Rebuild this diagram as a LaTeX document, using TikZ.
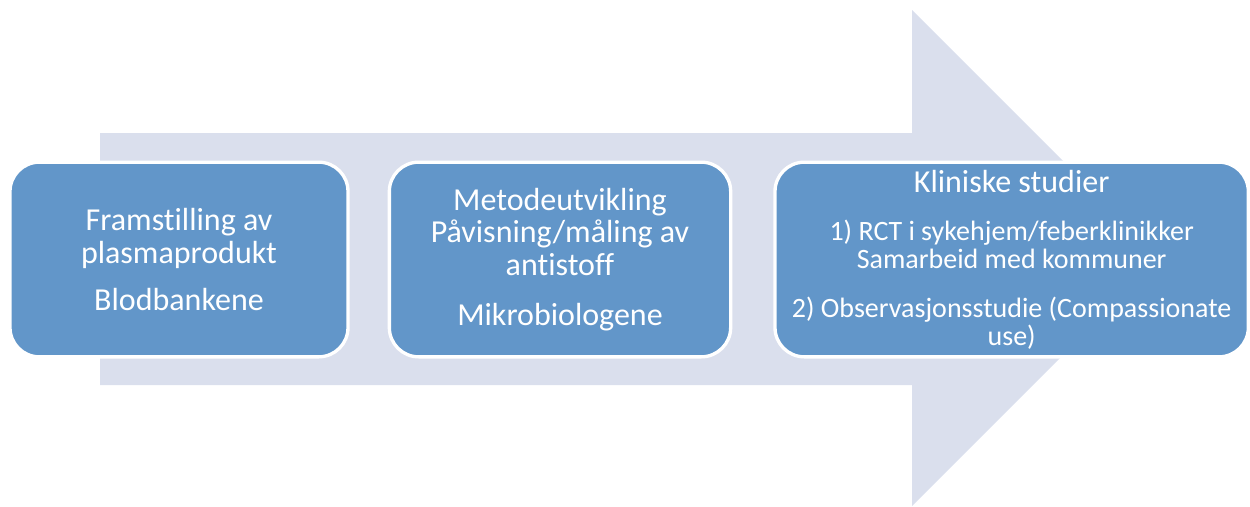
\documentclass[tikz,border=0pt]{standalone}
\usepackage{fontspec}
\setmainfont{Carlito}[Ligatures=NoCommon]
\usetikzlibrary{positioning}
\definecolor{arrowfill}{RGB}{218,223,237}
\definecolor{boxfill}{RGB}{98,150,201}

\begin{document}
\begin{tikzpicture}[x=0.75pt,y=-0.75pt,node distance=28.5pt,
  stage/.style={rectangle,rounded corners=22pt,fill=boxfill,draw=white,line width=2.5pt,
    text=white,align=center,minimum height=146pt,inner sep=0pt,
    font=\fontsize{24}{24.5}\selectfont}]
\useasboundingbox (0,0) rectangle (1250,507);
% big background arrow
\fill[arrowfill] (100,133) -- (912,133) -- (912,10) -- (1160,258) -- (912,506) -- (912,385) -- (100,385) -- cycle;
\node[stage,minimum width=253.5pt] (plasma) at (179,259.5) {Framstilling av\\plasmaprodukt\\[11pt]Blodbankene};
\node[stage,minimum width=256pt,right=of plasma] (metode) {Metodeutvikling\\Påvisning/måling av\\antistoff\\[13pt]Mikrobiologene};
\node[stage,minimum width=355pt,right=30.75pt of metode,font=\fontsize{21}{21}\selectfont] (klinisk)
  {{\fontsize{24}{24}\selectfont Kliniske studier}\\[15pt]1) RCT i sykehjem/feberklinikker\\Samarbeid med kommuner\\[16pt]2) Observasjonsstudie (Compassionate\\use)};
\end{tikzpicture}
\end{document}
